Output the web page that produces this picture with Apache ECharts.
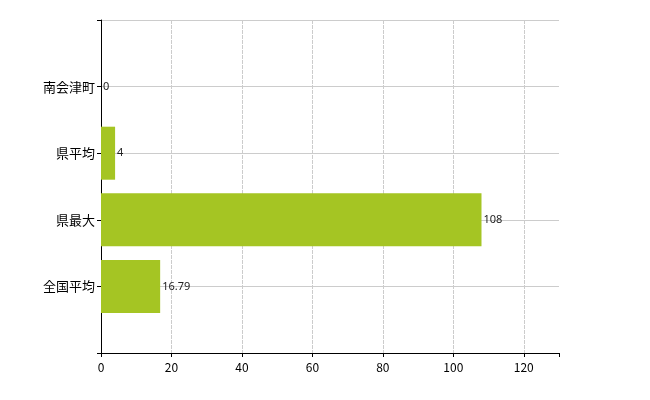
<!DOCTYPE html>
<html>
<head>
<meta charset="utf-8">
<script src="https://cdn.jsdelivr.net/npm/echarts@6/dist/echarts.min.js"></script>
<style>html,body{margin:0;background:#fff}#c{width:650px;height:400px}</style>
</head>
<body>
<div id="c"></div>
<script>
// categories bottom to top, padded with blanks so ticks fall like the original
const categories = ['', '全国平均', '県最大', '県平均', '南会津町', ''];
const values = [null, 16.79, 108, 4, 0, null];
const xTicks = [0, 20, 40, 60, 80, 100, 120];

const chart = echarts.init(document.getElementById('c'));
const font = 'Noto Sans CJK JP';

chart.setOption({
    animation: false,
    grid: { left: 101, right: 91, top: 20, bottom: 47 },
    xAxis: {
        type: 'value', min: 0, max: 130, interval: 20,
        axisLine: { show: true, lineStyle: { color: '#000' } },
        axisTick: { show: true, length: 4, lineStyle: { color: '#000' } },
        axisLabel: {
            color: '#000', fontSize: 12, fontFamily: font,
            formatter: v => xTicks.includes(v) ? String(v) : ''
        },
        splitLine: { show: true, showMinLine: false, showMaxLine: false, lineStyle: { color: '#ccc', type: [4, 1] } }
    },
    yAxis: {
        type: 'category', data: categories, boundaryGap: false,
        axisLine: { show: true, lineStyle: { color: '#000' } },
        axisTick: { show: true, length: 4, lineStyle: { color: '#000' } },
        axisLabel: { color: '#000', fontSize: 13, fontFamily: font, margin: 6 },
        splitLine: { show: true, lineStyle: { color: '#ccc' } }
    },
    series: [{
        type: 'bar',
        data: values,
        barWidth: 53,
        itemStyle: { color: '#a5c523' },
        label: {
            show: true, position: 'right', distance: 2,
            color: '#222', fontSize: 11, fontFamily: 'Noto Sans'
        }
    }]
});
</script>
</body>
</html>
